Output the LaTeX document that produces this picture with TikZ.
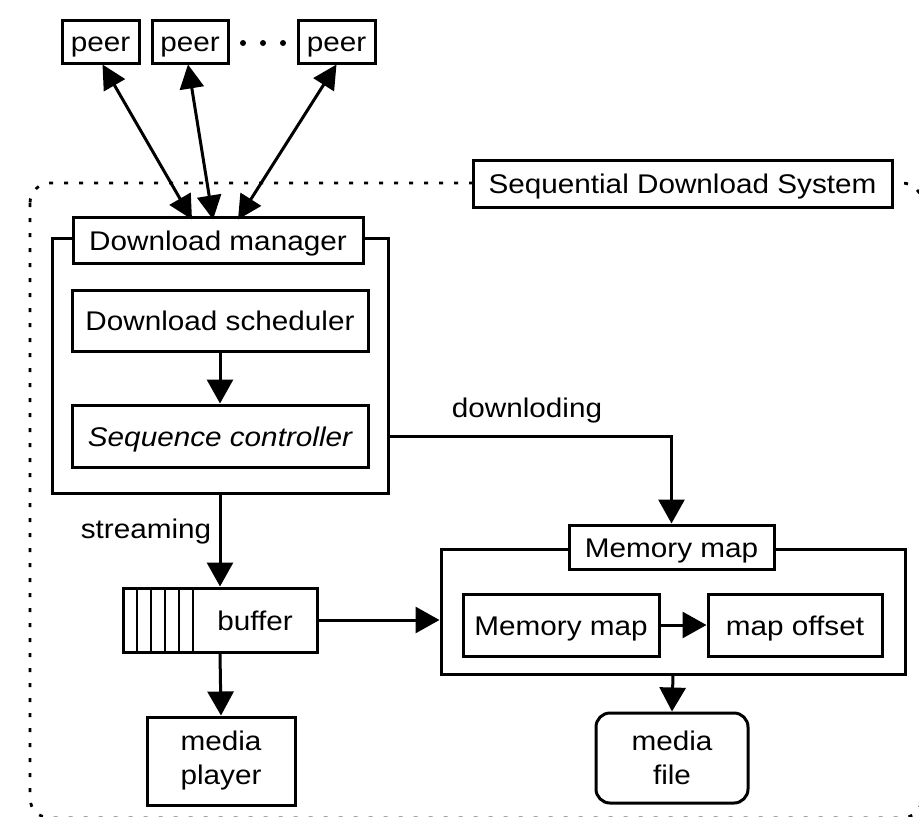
\documentclass[tikz,border=0pt]{standalone}
\usepackage{fontspec}
\setmainfont{Liberation Sans}[FakeStretch=1.1]
\usetikzlibrary{arrows.meta}

\tikzset{
  txt/.style={font=\fontsize{27}{31}\selectfont, inner sep=0pt},
  box/.style={txt, draw, line width=3pt},
  single/.style={text height=20pt, text depth=0pt},
  twoline/.style={align=center, font=\fontsize{27}{34}\selectfont},
  labelbox/.style={box, single, fill=white},
  arr/.style={line width=3pt, -{Triangle[length=24pt,width=26pt]}},
  biarr/.style={line width=3pt, {Triangle[length=24pt,width=24pt]}-{Triangle[length=24pt,width=24pt]}},
  boundary/.style={line width=2.8pt, dash pattern=on 4pt off 11pt, rounded corners=20pt}
}

\begin{document}
\begin{tikzpicture}[x=1pt, y=-1pt]
\useasboundingbox (0,0) rectangle (919,817);

% system boundary
\draw[boundary] (30,183) rectangle (922,818);
\node[labelbox, minimum width=419pt, minimum height=47pt] (sds) at (682.5,183.5) {Sequential Download System};

% peers
\node[box, single, minimum width=77pt, minimum height=43pt] (p1) at (100.5,41.5) {peer};
\node[box, single, minimum width=76pt, minimum height=43pt] (p2) at (190,41.5) {peer};
\node[box, single, minimum width=77pt, minimum height=43pt] (p3) at (336.5,41.5) {peer};
\foreach \x in {243,263,283} \fill (\x,43) circle (3pt);

% download manager
\node[box, minimum width=336pt, minimum height=255pt] (dm) at (220,365.5) {};
\node[labelbox, minimum width=290pt, minimum height=46pt] (dml) at (218,240) {Download manager};
\node[box, single, minimum width=296pt, minimum height=61pt] (ds) at (220,320.5) {Download scheduler};
\node[box, single, minimum width=296pt, minimum height=62pt, font=\fontsize{27}{31}\selectfont\itshape] (sc) at (220,436) {Sequence controller};

\draw[biarr] ([xshift=2pt]p1.south) -- ([xshift=-26pt,yshift=-4pt]dml.north);
\draw[biarr] ([xshift=-2pt]p2.south) -- ([xshift=-5pt,yshift=-4pt]dml.north);
\draw[biarr] (p3.south) -- ([xshift=20pt,yshift=-4pt]dml.north);
\draw[arr] (ds) -- (sc);

% buffer and player
\node[box, minimum width=194pt, minimum height=64pt] (buf) at (220,620) {};
\foreach \x in {137,151,165,179,193}
  \draw[line width=2.4pt] (\x,588) -- (\x,652);
\node[txt, single] (buft) at (255,620) {buffer};
\node[box, twoline, minimum width=148pt, minimum height=88pt] (mp) at (221,761) {media\\player};

% memory map
\node[box, minimum width=464pt, minimum height=125pt] (mm) at (673,611.5) {};
\node[labelbox, minimum width=205pt, minimum height=44pt] (mml) at (671.5,547) {Memory map};
\node[box, single, minimum width=196pt, minimum height=62pt] (mm1) at (561,625) {Memory map};
\node[box, single, minimum width=174pt, minimum height=62pt] (mo) at (795,625) {map offset};
\node[box, twoline, rounded corners=14pt, minimum width=152pt, minimum height=90pt] (mf) at (672,758) {media\\file};

% connectors
\draw[arr] (dm.east |- sc.east) -| (mml.north);
\node[txt, single] (dlab) at (527,407) {downloding};
\draw[arr] (dm.south) -- (buf.north);
\node[txt, single] (slab) at (146,528) {streaming};
\draw[arr] (buf.south) -- (mp.north);
\draw[arr] (buf.east) -- (buf.east -| mm.west);
\draw[arr] (mm1) -- (mo);
\draw[arr] (mm.south) -- (mf.north);
\end{tikzpicture}
\end{document}
